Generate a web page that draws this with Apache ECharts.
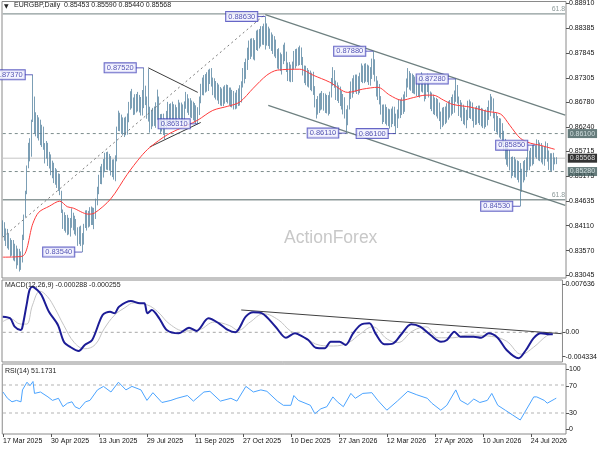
<!DOCTYPE html>
<html><head><meta charset="utf-8">
<script src="https://cdn.jsdelivr.net/npm/echarts@6/dist/echarts.min.js"></script>
<style>html,body{margin:0;padding:0;background:#fff}#c{width:600px;height:450px}</style>
</head><body><div id="c"></div>
<script>
// ---- daily closes (EURGBP) ----
const closes = [
0.8405,0.8392,0.8380,0.8386,0.8368,0.8360,0.8366,0.8350,0.8356,0.8340,
0.8347,0.8333,0.8338,0.8385,0.8430,0.8485,0.8535,0.8590,0.8560,0.8640,
0.8690,
0.8610,0.8650,0.8600,0.8640,0.8585,0.8625,0.8575,0.8560,0.8590,0.8540,
0.8565,0.8520,0.8545,0.8505,0.8530,0.8495,0.8515,0.8485,0.8440,0.8410,
0.8430,0.8400,0.8425,0.8395,0.8420,0.8435,0.8405,0.8420,0.8395,0.8380,
0.8400,0.8378,0.8370,0.8415,0.8435,0.8410,0.8440,0.8420,0.8445,0.8418,
0.8435,0.8460,0.8490,0.8510,0.8530,0.8515,0.8555,0.8540,0.8562,0.8540,
0.8556,0.8525,0.8545,0.8520,0.8550,0.8625,0.8650,0.8620,0.8640,0.8612,
0.8635,0.8618,0.8643,0.8670,0.8693,0.8678,0.8660,0.8686,0.8665,0.8693,
0.8656,0.8682,0.8671,0.8703,0.8682,0.8650,0.8668,0.8625,0.8656,0.8635,
0.8660,0.8640,0.8690,0.8640,0.8622,0.8645,0.8615,0.8630,0.8650,0.8665,
0.8643,0.8670,0.8648,0.8663,0.8640,0.8656,0.8670,0.8648,0.8664,0.8642,
0.8675,0.8690,0.8660,0.8676,0.8655,0.8670,0.8648,0.8662,0.8640,0.8650,
0.8690,0.8703,0.8721,0.8708,0.8729,0.8714,0.8736,0.8742,0.8721,0.8703,
0.8714,0.8693,0.8708,0.8682,0.8699,0.8678,0.8703,0.8686,0.8708,0.8682,
0.8699,0.8678,0.8693,0.8671,0.8690,0.8678,0.8699,0.8686,0.8714,0.8747,
0.8736,0.8764,0.8779,0.8801,0.8785,0.8807,0.8779,0.8801,0.8822,0.8801,
0.8829,0.8811,0.8833,0.8816,0.8837,0.8811,0.8829,0.8801,0.8816,0.8790,
0.8807,0.8779,0.8764,0.8779,0.8751,0.8768,0.8794,0.8779,0.8751,0.8736,
0.8751,0.8729,0.8758,0.8779,0.8764,0.8785,0.8768,0.8790,0.8764,0.8747,
0.8729,0.8742,0.8721,0.8736,0.8714,0.8729,0.8708,0.8671,0.8656,0.8686,
0.8665,0.8693,0.8671,0.8686,0.8665,0.8682,0.8660,0.8693,0.8725,0.8742,
0.8714,0.8693,0.8708,0.8682,0.8699,0.8665,0.8682,0.8649,0.8628,0.8671,
0.8693,0.8714,0.8703,0.8729,0.8708,0.8725,0.8703,0.8736,0.8747,0.8729,
0.8751,0.8733,0.8747,0.8725,0.8742,0.8758,0.8768,0.8725,0.8699,0.8708,
0.8682,0.8660,0.8643,0.8665,0.8639,0.8656,0.8634,0.8649,0.8639,0.8660,
0.8634,0.8628,0.8656,0.8671,0.8656,0.8682,0.8665,0.8693,0.8725,0.8736,
0.8714,0.8729,0.8708,0.8725,0.8703,0.8721,0.8699,0.8714,0.8729,0.8708,
0.8693,0.8714,0.8725,0.8693,0.8671,0.8686,0.8660,0.8678,0.8656,0.8671,
0.8643,0.8634,0.8656,0.8639,0.8660,0.8649,0.8671,0.8656,0.8682,0.8665,
0.8693,0.8708,0.8682,0.8656,0.8671,0.8643,0.8660,0.8634,0.8649,0.8671,
0.8656,0.8665,0.8649,0.8639,0.8656,0.8643,0.8660,0.8639,0.8652,0.8634,
0.8647,0.8639,0.8656,0.8665,0.8678,0.8686,0.8643,0.8628,0.8639,0.8617,
0.8628,0.8613,0.8606,0.8584,0.8569,0.8556,0.8563,0.8542,0.8531,0.8548,
0.8527,0.8542,0.8520,0.8535,0.8498,0.8520,0.8535,0.8527,0.8548,0.8556,
0.8548,0.8570,0.8556,0.8574,0.8583,0.8570,0.8578,0.8563,0.8574,0.8553,
0.8570,0.8578,0.8561,0.8544,0.8553,0.8542,0.8557,0.8545,0.85568
];
// estimated daily high-low range of each bar, in pips
const rangesPips = [
35,40,38,42,36,40,34,44,38,40, 36,42,40,60,55,58,62,55,50,52,
60,48,52,45,50,42,48,40,44,38, 42,36,40,38,44,36,40,38,46,48,
42,40,38,44,36,40,42,38,40,36, 40,38,44,42,40,38,44,36,42,40,
38,46,44,40,42,38,44,40,42,38, 40,36,42,38,44,56,50,44,40,42,
38,42,40,46,44,40,42,38,44,40, 42,38,40,55,44,42,48,46,40,42,
40,42,55,44,40,42,38,46,40,38, 42,40,38,40,36,42,38,40,36,42,
40,42,38,40,36,42,38,40,42,40, 44,40,42,38,44,40,42,46,44,40,
38,42,40,38,42,40,38,42,40,38, 40,38,42,38,40,36,40,38,44,46,
42,46,44,48,42,44,40,46,44,42, 46,42,44,40,46,70,48,42,44,40,
42,44,40,42,46,40,44,42,40,44, 40,42,38,44,40,42,38,40,42,38,
40,38,42,40,38,42,40,50,46,42, 40,42,38,40,38,42,40,44,48,42,
40,38,42,40,38,42,40,44,46,48, 42,40,38,42,40,38,42,40,44,40,
38,42,40,38,42,40,44,52,48,44, 42,44,40,42,38,42,40,38,42,40,
38,42,44,40,42,40,38,42,44,40, 42,40,38,42,40,38,42,40,38,42,
40,42,38,40,42,38,40,42,38,40, 42,40,38,42,40,38,42,40,38,40,
42,48,44,40,42,38,40,42,38,40, 42,40,38,40,42,38,40,38,42,40,
42,40,38,40,42,48,44,42,40,42, 40,42,44,46,42,44,40,42,44,46,
42,44,40,42,46,60,50,46,44,42, 44,42,40,44,42,40,42,44,40,42,
40,42,38,40,42,38,40,38,15,15
];
// bar extremes that stick out (index, price)
const highMarks = [[20,0.8737],[94,0.8752],[97,0.8750],[103,0.8705],[122,0.8700],[138,0.8750],[175,0.8863],[247,0.8788],[302,0.8728],[326,0.8690],[355,0.8585],[369,0.8559]];
const lowMarks = [[9,0.8318],[11,0.8312],[53,0.8354],[98,0.8612],[108,0.8598],[130,0.8631],[229,0.8611],[262,0.8610],[345,0.8453],[369,0.8544]];
// moving average (red) – sampled points (index, value)
const maPts = [[0,0.8343],[13,0.8345],[20,0.8415],[24,0.8440],[31,0.8453],[38,0.8464],[43,0.8452],[47,0.8449],[57,0.8436],[61,0.8438],[72,0.8469],[83,0.8522],[92,0.8560],[98,0.8580],[110,0.8608],[123,0.8628],[130,0.8639],[140,0.8660],[150,0.8669],[158,0.8678],[167,0.8708],[176,0.8736],[183,0.8747],[198,0.8749],[207,0.8736],[218,0.8721],[230,0.8699],[240,0.8706],[250,0.8710],[258,0.8693],[266,0.8682],[274,0.8688],[282,0.8693],[287,0.8693],[294,0.8682],[300,0.8673],[312,0.8667],[323,0.8658],[332,0.8652],[338,0.8628],[345,0.8600],[352,0.8589],[358,0.8585],[368,0.8576]];
// MACD main / signal (index, value)
const macdPts = [[0,0.00228],[5,0.00204],[8,0.00082],[12,0.00034],[13,0.00058],[16,0.0040],[18,0.0062],[20,0.00666],[23,0.0062],[26,0.00545],[31,0.0030],[37,0.00107],[41,-0.00137],[45,-0.0021],[51,-0.00273],[55,-0.00185],[60,-0.00112],[67,0.00253],[72,0.0030],[75,0.00277],[78,0.00374],[86,0.00457],[92,0.00423],[95,0.00423],[97,0.00277],[100,0.00326],[105,0.00204],[110,0.00034],[118,-0.00015],[125,0.00067],[130,0.0002],[138,0.00204],[145,0.00131],[151,0.00034],[156,0],[163,0.00228],[168,0.00292],[174,0.00277],[183,0.00082],[190,-0.00079],[196,-0.00015],[198,-0.00025],[205,-0.00112],[210,-0.00225],[216,-0.00234],[220,-0.00137],[226,-0.00137],[230,-0.00185],[235,-0.00015],[240,0.00107],[246,0.00131],[250,-0.00015],[256,-0.00175],[262,-0.00161],[267,-0.0004],[274,0.00117],[280,0.00082],[287,-0.0004],[294,-0.00137],[298,-0.00112],[303,0.0001],[307,-0.00064],[316,-0.00064],[321,-0.00079],[326,-0.00015],[332,-0.00079],[338,-0.00258],[346,-0.0038],[351,-0.00258],[356,-0.00088],[361,-0.00015],[367,-0.00029],[369,-0.000288]];
const signalPts = [[0,0.00155],[5,0.0020],[12,0.0012],[16,0.0012],[20,0.0040],[25,0.0060],[30,0.0052],[35,0.0035],[41,0.0010],[48,-0.0015],[55,-0.0024],[62,-0.0018],[68,0.0005],[75,0.0025],[82,0.0036],[88,0.0043],[97,0.0040],[104,0.0030],[112,0.0012],[122,0.0002],[132,0.0004],[142,0.0015],[152,0.0010],[158,0.0003],[166,0.0015],[175,0.0027],[185,0.0018],[193,0.0002],[202,-0.0007],[213,-0.0019],[222,-0.0020],[232,-0.0015],[240,-0.0002],[248,0.0008],[258,-0.0010],[265,-0.0015],[275,0.0002],[284,0.0008],[292,-0.0008],[302,-0.0008],[312,-0.0004],[328,-0.0006],[338,-0.0013],[348,-0.0032],[356,-0.0022],[365,-0.0005],[369,-0.000255]];
// RSI(14) (index, value)
const rsiPts = [[0,60],[3,51],[6,46],[9,48],[12,46],[13,63],[16,74],[18,69],[20,75],[21,58],[25,60],[30,53],[33,48],[37,51],[40,39],[43,44],[46,46],[48,39],[51,36],[55,46],[58,48],[63,63],[67,68],[72,60],[77,74],[82,63],[86,68],[92,63],[96,48],[100,59],[106,45],[112,48],[116,51],[123,55],[127,47],[134,60],[138,61],[145,47],[152,51],[156,47],[162,68],[167,60],[172,63],[176,61],[183,47],[187,41],[192,41],[194,55],[197,48],[198,48],[205,41],[208,29],[212,36],[216,39],[220,53],[223,46],[227,39],[232,58],[235,51],[240,58],[246,59],[250,48],[256,34],[263,47],[270,61],[276,56],[283,51],[286,44],[292,34],[296,41],[302,63],[305,48],[310,42],[314,50],[318,45],[323,48],[326,58],[330,41],[335,34],[340,27],[345,20],[348,31],[354,53],[356,53],[361,48],[363,44],[368,50],[369,51.17]];
// swing labels (index, price, text)
const swingLabels = [[20,0.8737,'0.87370'],[94,0.8752,'0.87520'],[175,0.8863,'0.88630'],[130,0.8631,'0.86310'],[53,0.8354,'0.83540'],[247,0.8788,'0.87880'],[229,0.8611,'0.86110'],[262,0.8610,'0.86100'],[302,0.8728,'0.87280'],[355,0.8585,'0.85850'],[345,0.8453,'0.84530']];
// trend lines (index, value)
const upDotted = [[0,0.8386],[174,0.8865]];
const channelTop = [[175,0.8867],[375,0.8650]];
const channelBottom = [[177,0.8671],[375,0.8455]];
const triTop = [[97,0.8752],[130,0.8699]];
const triBottom = [[98,0.8581],[132,0.8634]];
const macdTrend = [[160,0.00326],[375,-0.0002]];
// horizontal levels
const fibLevels = [0.88684, 0.8467];
const dashLevels = [0.8610, 0.8528];
const lastPrice = 0.85568;
// tick labels
const priceTicks = [0.88910,0.88385,0.87845,0.87305,0.86780,0.86240,0.85715,0.85175,0.84635,0.84110,0.83570,0.83045];
const macdTickText = ['0.007636','0.00','-0.004334'];
const rsiTickText = ['100','70','30','0'];
const dateTicks = ['17 Mar 2025','30 Apr 2025','13 Jun 2025','29 Jul 2025','11 Sep 2025','27 Oct 2025','10 Dec 2025','27 Jan 2026','12 Mar 2026','27 Apr 2026','10 Jun 2026','24 Jul 2026'];

// categories: trading days (weekdays, no Dec 25 / Jan 1) incl. right margin
const MONTHS=['Jan','Feb','Mar','Apr','May','Jun','Jul','Aug','Sep','Oct','Nov','Dec'];
const dates=[]; {let d=new Date(Date.UTC(2025,2,17));
 while(dates.length<376){const wd=d.getUTCDay(),m=d.getUTCMonth(),day=d.getUTCDate();
  if(wd!==0&&wd!==6&&!((m===11&&day===25)||(m===0&&day===1))) dates.push(day+' '+MONTHS[m]+' '+d.getUTCFullYear());
  d.setUTCDate(day+1);} }
const tickSet=new Set(dateTicks);
const LAST=dates.length-1;

const hiMap=new Map(highMarks), loMap=new Map(lowMarks);
const ohlc=closes.map((c,i)=>{const o=i?closes[i-1]:c;
  const w=Math.max(0,(rangesPips[i]*0.0001-Math.abs(c-o))/2);
  let h=Math.max(o,c)+w, l=Math.min(o,c)-w;
  if(hiMap.has(i)) h=Math.max(Math.max(o,c),hiMap.get(i));
  if(loMap.has(i)) l=Math.min(Math.min(o,c),loMap.get(i));
  return [o,c,l,h];});

const FONT='"Liberation Sans", Arial, "DejaVu Sans", sans-serif';
const BAR='#5a86a2';
const lineS=(data,xi,color,width,type,extra)=>Object.assign({type:'line',xAxisIndex:xi,yAxisIndex:xi,data,symbol:'none',silent:true,
  lineStyle:{color,width,type:type||'solid'},z:3},extra||{});
const hLine=(v,color,width,type)=>lineS([[0,v],[LAST,v]],0,color,width,type,{z:1});
const boxPt=(v,txt,bg,fg)=>({value:[LAST,v],label:{formatter:txt,backgroundColor:bg,color:fg}});

const chart=echarts.init(document.getElementById('c'),null,{renderer:'canvas'});
const macdMin=-0.004334, macdMax=0.007636;
chart.setOption({
 animation:false,
 textStyle:{fontFamily:FONT},
 grid:[
  {left:2,right:34,top:1,height:277,show:true,borderColor:'#8a8a8a',borderWidth:1},
  {left:2,right:34,top:280,height:82,show:true,borderColor:'#8a8a8a',borderWidth:1},
  {left:2,right:34,top:364,height:70,show:true,borderColor:'#8a8a8a',borderWidth:1}
 ],
 xAxis:[0,1,2].map(g=>({type:'category',gridIndex:g,data:dates,boundaryGap:true,
   axisLine:{show:false},splitLine:{show:false},
   axisTick:{show:g===2,interval:(i,v)=>tickSet.has(v),alignWithLabel:true,length:3,lineStyle:{color:'#555'}},
   axisLabel:{show:g===2,interval:(i,v)=>tickSet.has(v),align:'left',margin:4,fontSize:7,color:'#111',fontFamily:FONT}})),
 yAxis:[
  {type:'value',gridIndex:0,position:'right',min:0.8298,max:0.88953,splitLine:{show:false},axisLine:{show:false},
   axisTick:{show:true,length:3,customValues:priceTicks,lineStyle:{color:'#555'}},
   axisLabel:{customValues:priceTicks,formatter:v=>v.toFixed(5),fontSize:7,color:'#111',margin:3,fontFamily:FONT}},
  {type:'value',gridIndex:1,position:'right',min:macdMin,max:macdMax,splitLine:{show:false},axisLine:{show:false},
   axisTick:{show:true,length:3,customValues:[0.0070,0,-0.00356],lineStyle:{color:'#555'}},
   axisLabel:{customValues:[0.0070,0,-0.00356],formatter:v=>v>0.001?macdTickText[0]:(v<-0.001?macdTickText[2]:macdTickText[1]),fontSize:7,color:'#111',margin:3,fontFamily:FONT}},
  {type:'value',gridIndex:2,position:'right',min:0,max:100,splitLine:{show:false},axisLine:{show:false},
   axisTick:{show:true,length:3,customValues:[92.4,68.6,29.6,6.7],lineStyle:{color:'#555'}},
   axisLabel:{customValues:[92.4,68.6,29.6,6.7],formatter:v=>v>80?rsiTickText[0]:v>50?rsiTickText[1]:v>20?rsiTickText[2]:rsiTickText[3],fontSize:7,color:'#111',margin:3,fontFamily:FONT}}
 ],
 graphic:[
  {type:'text',left:4,top:3,z:10,style:{text:'▼',font:'6px "DejaVu Sans"',fill:'#222'}},
  {type:'text',left:14,top:2,z:10,style:{text:'EURGBP,Daily  0.85453 0.85590 0.85440 0.85568',font:'7px '+FONT,fill:'#222'}},
  {type:'text',left:284,top:229,z:0,style:{text:'ActionForex',font:'17.5px '+FONT,fill:'#c8c8c8'}},
  {type:'text',left:5,top:282,z:10,style:{text:'MACD(12,26,9) -0.000288 -0.000255',font:'7px '+FONT,fill:'#222'}},
  {type:'text',left:5,top:368,z:10,style:{text:'RSI(14) 51.1731',font:'7px '+FONT,fill:'#222'}}
 ],
 series:[
  hLine(fibLevels[0],'#8d9a9a',1.3),
  hLine(fibLevels[1],'#8d9a9a',1.6),
  hLine(dashLevels[0],'#7d8d8d',1,[3,3]),
  hLine(dashLevels[1],'#7d8d8d',1,[3,3]),
  hLine(lastPrice,'#c6c6c6',1),
  {type:'candlestick',xAxisIndex:0,yAxisIndex:0,data:ohlc,barWidth:1,silent:true,z:2,
   itemStyle:{color:BAR,color0:BAR,borderColor:BAR,borderColor0:BAR,borderWidth:0.8}},
  lineS(maPts,0,'#ff3b3b',1,'solid',{smooth:0.3,z:4}),
  lineS(upDotted,0,'#7a7a7a',1,[2,3]),
  lineS(channelTop,0,'#6e8080',1.2),
  lineS(channelBottom,0,'#6e8080',1.2),
  lineS(triTop,0,'#3c3c3c',1),
  lineS(triBottom,0,'#3c3c3c',1),
  // "61.8" fib captions
  {type:'scatter',xAxisIndex:0,yAxisIndex:0,silent:true,z:5,symbolSize:0,
   data:fibLevels.map(v=>[LAST,v]),
   label:{show:true,position:'left',distance:0,offset:[0,-5],formatter:'61.8',fontSize:7,color:'#6f7f7f',fontFamily:FONT}},
  // right-axis price boxes
  {type:'scatter',xAxisIndex:0,yAxisIndex:0,silent:true,z:7,symbolSize:0,
   data:[boxPt(dashLevels[0],'0.86100','#3f5a5a','#e8f4f4'),boxPt(lastPrice,'0.85568','#000','#fff'),boxPt(dashLevels[1],'0.85280','#3f5a5a','#e8f4f4')],
   label:{show:true,position:'right',distance:2.5,fontSize:7,fontFamily:FONT,padding:[1,2,1,2]}},
  {type:'scatter',xAxisIndex:0,yAxisIndex:0,silent:true,z:6,
   data:swingLabels.map(s=>({value:[s[0],s[1]],label:{formatter:s[2]}})),
   symbol:'rect',symbolSize:[8,1],symbolOffset:[-4,0],itemStyle:{color:'#3a3ab0'},
   label:{show:true,position:'left',distance:0,fontSize:7.5,fontFamily:FONT,color:'#2b2ba0',backgroundColor:'#f2f2ff',borderColor:'#4040b8',borderWidth:1,padding:[1,2,0,2]}},
  lineS([[0,0],[LAST,0]],1,'#a8a8a8',1,[3,3],{z:1}),
  lineS(signalPts,1,'#c4c4c4',1,'solid',{smooth:0.4}),
  lineS(macdPts,1,'#1c1c96',2,'solid',{smooth:0.3,z:4}),
  lineS(macdTrend,1,'#404040',1),
  lineS([[0,70],[LAST,70]],2,'#b4b4b4',1,[3,3],{z:1}),
  lineS([[0,30],[LAST,30]],2,'#b4b4b4',1,[3,3],{z:1}),
  lineS(rsiPts,2,'#4aa3ff',1,'solid')
 ]
});
</script></body></html>
